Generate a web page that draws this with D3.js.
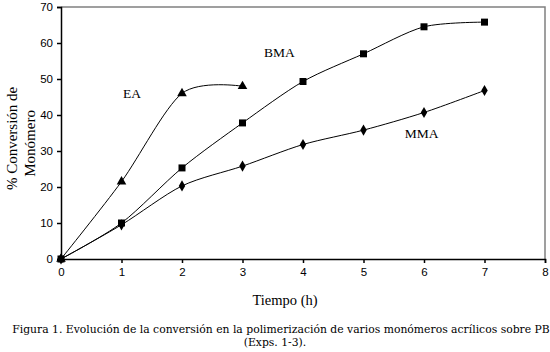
<!DOCTYPE html>
<html><head><meta charset="utf-8">
<script src="https://cdn.jsdelivr.net/npm/d3@7"></script>
<style>body{margin:0;background:#fff}svg{display:block}</style>
</head><body>
<svg id="c" width="550" height="352"></svg>
<script>
const times = [0,1,2,3,4,5,6,7];
const eaValues = [0,21.5,46,48];
const bmaValues = [0,10,25.3,37.8,49.3,57,64.5,65.8];
const mmaValues = [0,9.5,20.3,25.8,31.8,35.8,40.7,46.8];
const xTicks = [0,1,2,3,4,5,6,7,8];
const yTicks = [0,10,20,30,40,50,60,70];
const seriesNames = ["EA","BMA","MMA"];

const svg = d3.select("#c");
const x = d3.scaleLinear().domain([0,8]).range([61,545]);
const y = d3.scaleLinear().domain([0,70]).range([259,7]);

svg.append("path").attr("d",`M${x(0)},${y(70)}H${x(8)}V${y(0)}`)
  .attr("fill","none").attr("stroke","#808080").attr("stroke-width",1.5);

const xa = svg.append("g").attr("transform",`translate(0,${y(0)})`)
  .call(d3.axisBottom(x).tickValues(xTicks).tickSize(4).tickPadding(5).tickFormat(d3.format("d")));
const ya = svg.append("g").attr("transform",`translate(${x(0)},0)`)
  .call(d3.axisLeft(y).tickValues(yTicks).tickSize(4).tickPadding(4).tickFormat(d3.format("d")));
[xa,ya].forEach(a=>{
  a.selectAll("path.domain").attr("stroke","#000").attr("stroke-width",1.5);
  a.selectAll(".tick line").attr("stroke","#000").attr("stroke-width",1.5);
  a.selectAll("text").attr("font-family","Liberation Sans, Arial, sans-serif").attr("font-size",11.5).attr("fill","#000");
});

const line = d3.line().x((d,i)=>x(times[i])).y(d=>y(d)).curve(d3.curveCardinal.tension(0.15));
const series = [
  {name:"EA", vals:eaValues, sym:d3.symbolTriangle, size:40},
  {name:"BMA", vals:bmaValues, sym:d3.symbolSquare, size:49},
  {name:"MMA", vals:mmaValues, sym:d3.symbolDiamond, size:36}
];
series.forEach(s=>{
  svg.append("path").attr("d",line(s.vals)).attr("fill","none").attr("stroke","#000").attr("stroke-width",1);
  svg.append("g").selectAll("path").data(s.vals).join("path")
    .attr("transform",(d,i)=>`translate(${x(times[i])},${y(d)})`)
    .attr("d",d3.symbol().type(s.sym).size(s.size)).attr("fill","#000");
});

const serif = "Liberation Serif, Times New Roman, serif";
const labels = [
  {t:seriesNames[0], tx:1.174, ty:44.7},
  {t:seriesNames[1], tx:3.61, ty:56.1},
  {t:seriesNames[2], tx:5.96, ty:33.6}
];
labels.forEach(l=>svg.append("text").attr("x",x(l.tx)).attr("y",y(l.ty)).attr("text-anchor","middle")
  .attr("font-family",serif).attr("font-size",13.5).text(l.t));

svg.append("text").attr("x",285).attr("y",305).attr("text-anchor","middle")
  .attr("font-family",serif).attr("font-size",14.5).text("Tiempo (h)");
const yt = svg.append("text").attr("transform",`translate(17,${y(33.5)}) rotate(-90)`)
  .attr("text-anchor","middle").attr("font-family",serif).attr("font-size",15);
yt.append("tspan").attr("x",0).attr("dy",0).text("% Conversión de");
yt.append("tspan").attr("x",-5).attr("dy",18).text("Monómero");

svg.append("text").attr("x",281).attr("y",333).attr("text-anchor","middle")
  .attr("font-family","DejaVu Serif, serif").attr("font-size",10.8)
  .text("Figura 1. Evolución de la conversión en la polimerización de varios monómeros acrílicos sobre PB");
svg.append("text").attr("x",275).attr("y",346).attr("text-anchor","middle")
  .attr("font-family","DejaVu Serif, serif").attr("font-size",10.8)
  .text("(Exps. 1-3).");
</script>
</body></html>
